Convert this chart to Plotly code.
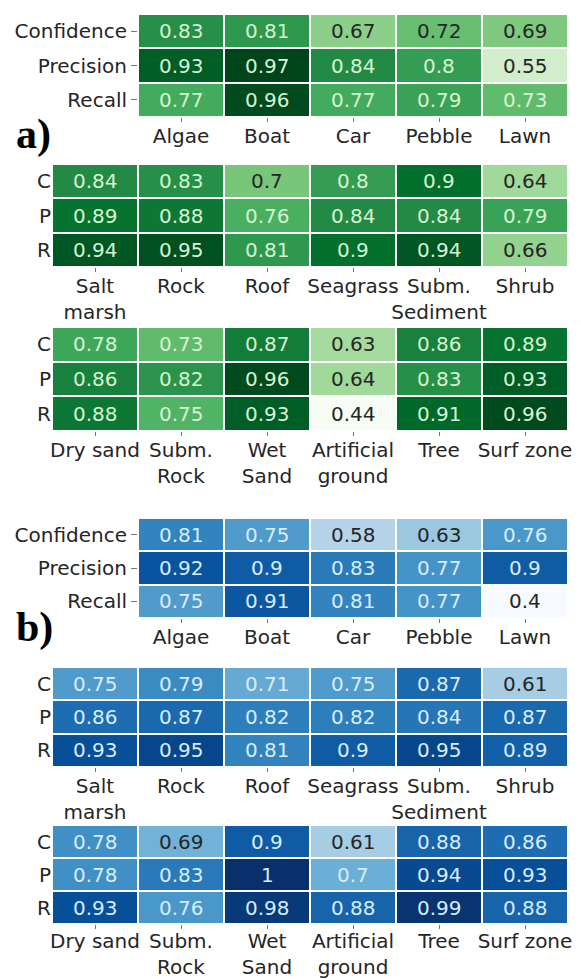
import plotly.graph_objects as go
import plotly.colors as pc

# ---------------- data ----------------
rows_long = ["Confidence", "Precision", "Recall"]
rows_short = ["C", "P", "R"]

cats1 = ["Algae", "Boat", "Car", "Pebble", "Lawn"]
cats2 = ["Salt<br>marsh", "Rock", "Roof", "Seagrass", "Subm.<br>Sediment", "Shrub"]
cats3 = ["Dry sand", "Subm.<br>Rock", "Wet<br>Sand", "Artificial<br>ground", "Tree", "Surf zone"]

a1_conf = [0.83, 0.81, 0.67, 0.72, 0.69]
a1_prec = [0.93, 0.97, 0.84, 0.80, 0.55]
a1_rec = [0.77, 0.96, 0.77, 0.79, 0.73]

a2_conf = [0.84, 0.83, 0.70, 0.80, 0.90, 0.64]
a2_prec = [0.89, 0.88, 0.76, 0.84, 0.84, 0.79]
a2_rec = [0.94, 0.95, 0.81, 0.90, 0.94, 0.66]

a3_conf = [0.78, 0.73, 0.87, 0.63, 0.86, 0.89]
a3_prec = [0.86, 0.82, 0.96, 0.64, 0.83, 0.93]
a3_rec = [0.88, 0.75, 0.93, 0.44, 0.91, 0.96]

b1_conf = [0.81, 0.75, 0.58, 0.63, 0.76]
b1_prec = [0.92, 0.90, 0.83, 0.77, 0.90]
b1_rec = [0.75, 0.91, 0.81, 0.77, 0.40]

b2_conf = [0.75, 0.79, 0.71, 0.75, 0.87, 0.61]
b2_prec = [0.86, 0.87, 0.82, 0.82, 0.84, 0.87]
b2_rec = [0.93, 0.95, 0.81, 0.90, 0.95, 0.89]

b3_conf = [0.78, 0.69, 0.90, 0.61, 0.88, 0.86]
b3_prec = [0.78, 0.83, 1.00, 0.70, 0.94, 0.93]
b3_rec = [0.93, 0.76, 0.98, 0.88, 0.99, 0.88]

# ---------------- style ----------------
W, H = 581, 979
FONT = "DejaVu Sans"
FS = 20
GREENS = pc.sequential.Greens
BLUES = pc.sequential.Blues


def lum_at(scale, t):
    t = min(max(t, 0.0), 1.0)
    n = len(scale) - 1
    i = min(int(t * n), n - 1)
    f = t * n - i
    c0 = pc.unlabel_rgb(scale[i])
    c1 = pc.unlabel_rgb(scale[i + 1])
    rgb = [c0[k] + (c1[k] - c0[k]) * f for k in range(3)]
    lin = []
    for v in rgb:
        v = v / 255.0
        lin.append(v / 12.92 if v <= 0.04045 else ((v + 0.055) / 1.055) ** 2.4)
    return 0.2126 * lin[0] + 0.7152 * lin[1] + 0.0722 * lin[2]


def fmt(v):
    return format(v, ".2g")


green_min, green_max = 0.44, 0.97
blue_min, blue_max = 0.40, 1.00
# (z rows, cats, row labels, scale, zmin, zmax, light text colour, pixel box, long labels?, label standoff)
panels = [
    ([a1_conf, a1_prec, a1_rec], cats1, rows_long, GREENS, green_min, green_max, "#d6f3d2", (138, 568, 14, 117), True, -3),
    ([a2_conf, a2_prec, a2_rec], cats2, rows_short, GREENS, green_min, green_max, "#d6f3d2", (52, 568, 164, 267), False, -3),
    ([a3_conf, a3_prec, a3_rec], cats3, rows_short, GREENS, green_min, green_max, "#d6f3d2", (52, 568, 327, 431), False, -3),
    ([b1_conf, b1_prec, b1_rec], cats1, rows_long, BLUES, blue_min, blue_max, "#d8ecfa", (138, 568, 518, 618), True, -3),
    ([b2_conf, b2_prec, b2_rec], cats2, rows_short, BLUES, blue_min, blue_max, "#d8ecfa", (52, 568, 667, 767), False, -3),
    ([b3_conf, b3_prec, b3_rec], cats3, rows_short, BLUES, blue_min, blue_max, "#d8ecfa", (52, 568, 825, 924), False, -5),
]

fig = go.Figure()
annotations = []
layout_axes = {}

for idx, (z, cats, rlabels, scale, zmin, zmax, light, box, longlab, standoff) in enumerate(panels, start=1):
    xs = "x" if idx == 1 else f"x{idx}"
    ys = "y" if idx == 1 else f"y{idx}"
    xa = "xaxis" if idx == 1 else f"xaxis{idx}"
    ya = "yaxis" if idx == 1 else f"yaxis{idx}"
    x0, x1, y0, y1 = box
    fig.add_trace(go.Heatmap(
        z=z, x=cats, y=rlabels, xaxis=xs, yaxis=ys,
        colorscale=scale, zmin=zmin, zmax=zmax, showscale=False,
        xgap=2, ygap=2, hoverinfo="skip",
    ))
    for ri, row in enumerate(z):
        for ci, v in enumerate(row):
            t = (v - zmin) / (zmax - zmin)
            col = "#262626" if lum_at(scale, t) > 0.395 else light
            annotations.append(dict(
                x=cats[ci], y=rlabels[ri], xref=xs, yref=ys, text=fmt(v),
                showarrow=False, font=dict(family=FONT, size=FS, color=col),
            ))
    layout_axes[xa] = dict(
        domain=[x0 / W, x1 / W], anchor=ys, type="category",
        ticks="outside", ticklen=4, tickcolor="#777777", tickwidth=1,
        tickangle=0, automargin=False, ticklabelstandoff=standoff,
        tickfont=dict(family=FONT, size=FS, color="#262626"),
        showgrid=False, zeroline=False, showline=False, fixedrange=True,
    )
    layout_axes[ya] = dict(
        domain=[1 - y1 / H, 1 - y0 / H], anchor=xs, type="category",
        autorange="reversed", automargin=False,
        ticks="outside" if longlab else "", ticklen=6, tickcolor="#777777", tickwidth=1,
        tickfont=dict(family=FONT, size=FS, color="#262626"),
        showgrid=False, zeroline=False, showline=False, fixedrange=True,
    )

# panel letters
for letter, py in (("a)", 135), ("b)", 627)):
    annotations.append(dict(
        x=14 / W, y=1 - py / H, xref="paper", yref="paper", xanchor="left", yanchor="middle",
        text=f"<b>{letter}</b>", showarrow=False,
        font=dict(family="Liberation Serif", size=42, color="black"),
    ))

fig.update_layout(
    width=W, height=H,
    margin=dict(l=0, r=0, t=0, b=0),
    paper_bgcolor="white", plot_bgcolor="white",
    annotations=annotations,
    showlegend=False,
    **layout_axes,
)

fig.write_html(
    "out.html",
    config={"displayModeBar": False, "staticPlot": True},
    post_script="document.body.style.margin='0';document.body.style.padding='0';document.body.style.overflow='hidden';",
)
